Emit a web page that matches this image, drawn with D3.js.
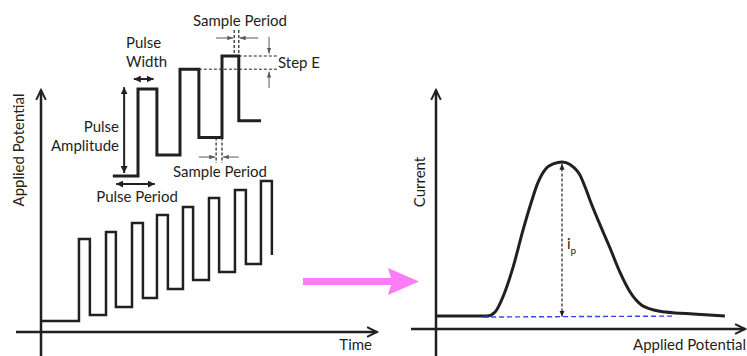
<!DOCTYPE html>
<html>
<head>
<meta charset="utf-8">
<script src="https://cdn.jsdelivr.net/npm/d3@7"></script>
<style>
  body { margin: 0; background: #fff; }
  svg { display: block; font-family: Lato, sans-serif; }
  text { fill: #231f20; }
</style>
</head>
<body>
<svg></svg>
<script>
let width = 747
let height = 356
let ink = '#231f20'
let grey = '#58595b'

// square wave excitation (left), time in pulse periods, potential in arbitrary steps
let riseTimes = [1.46, 2.5, 3.5, 4.46, 5.46, 6.46, 7.46, 8.46]
let fallTimes = [1.88, 2.88, 3.92, 4.88, 5.85, 6.85, 7.88, 8.88]
let highLevels = [9.3, 10.0, 10.9, 11.7, 12.5, 13.4, 14.2, 15.1]
let lowLevels = [1.7, 2.5, 3.4, 4.3, 5.2, 6.0, 6.8, 7.7]
let startLevel = 1.1

// enlarged detail of the first pulses
let insetRise = [0, 1, 2]
let insetFall = [0.45, 1.45, 2.4]
let insetHigh = [7.25, 8.9, 10]
let insetLow = [1.75, 3.2, 4.6]
let insetStart = -0.6
let insetEnd = 2.93

// resulting voltammogram (right)
let potential = [0, 1.7, 1.97, 2.23, 2.57, 2.9, 3.2, 3.38, 3.7, 3.93, 4.2, 4.47, 4.8, 4.97, 5.13, 5.57, 5.8, 6.13, 6.47, 6.67, 6.87, 7.13, 7.47, 7.97, 8.57, 9.63]
let current = [0.54, 0.54, 0.71, 1.34, 2.59, 4.14, 5.4, 6.07, 6.76, 6.92, 6.99, 6.88, 6.44, 5.94, 5.4, 4.06, 3.39, 2.38, 1.55, 1.21, 0.98, 0.84, 0.74, 0.67, 0.63, 0.54]
let baseline = [[1.57, 0.5], [7.9, 0.54]]
let peakIndex = 10

let leftX = d3.scaleLinear().domain([0, 13]).range([41, 379])
let leftY = d3.scaleLinear().domain([0, 10]).range([332, 232])
let insetX = d3.scaleLinear().domain([0, 1]).range([138, 180])
let insetY = d3.scaleLinear().domain([0, 10]).range([176, 56])
let rightX = d3.scaleLinear().domain([0, 10]).range([436, 736])
let rightY = d3.scaleLinear().domain([0, 10]).range([329, 90])

let svg = d3.select('svg')
    .attr('width', width)
    .attr('height', height)

let defs = svg.append('defs')

function marker(id, w, h, color) {
  defs.append('marker')
      .attr('id', id)
      .attr('viewBox', `0 ${-h} ${w} ${2 * h}`)
      .attr('refX', w)
      .attr('refY', 0)
      .attr('markerWidth', w)
      .attr('markerHeight', 2 * h)
      .attr('markerUnits', 'userSpaceOnUse')
      .attr('orient', 'auto-start-reverse')
    .append('path')
      .attr('d', `M0,${-h}L${w},0L0,${h}Z`)
      .attr('fill', color)
}
marker('solid', 7, 3.5, ink)
marker('small', 6, 2.6, ink)
marker('thin', 6, 2.2, grey)

function line(g, x1, y1, x2, y2) {
  return g.append('line')
      .attr('x1', x1).attr('y1', y1)
      .attr('x2', x2).attr('y2', y2)
}

function axisArrow(g, x1, y1, x2, y2) {
  line(g, x1, y1, x2, y2)
      .attr('stroke', ink)
      .attr('stroke-width', 2.5)
  let a = Math.atan2(y2 - y1, x2 - x1)
  let len = 11, spread = 0.45
  let p = [
    [x2 - len * Math.cos(a - spread), y2 - len * Math.sin(a - spread)],
    [x2, y2],
    [x2 - len * Math.cos(a + spread), y2 - len * Math.sin(a + spread)]
  ]
  g.append('path')
      .attr('d', d3.line()(p))
      .attr('fill', 'none')
      .attr('stroke', ink)
      .attr('stroke-width', 2)
}

function label(g, x, y, txt, anchor, size) {
  return g.append('text')
      .attr('x', x)
      .attr('y', y)
      .attr('text-anchor', anchor || 'start')
      .attr('font-size', size || 15)
      .text(txt)
}

// ---------- left panel ----------
let left = svg.append('g')

axisArrow(left, 41, 356, 41, 90)
axisArrow(left, 16, 332, 377, 332)

let wave = [[0, startLevel]]
riseTimes.forEach((t, i) => {
  let prev = i === 0 ? startLevel : lowLevels[i - 1]
  wave.push([t, prev], [t, highLevels[i]], [fallTimes[i], highLevels[i]], [fallTimes[i], lowLevels[i]])
})

left.append('path')
    .attr('d', d3.line().x(d => leftX(d[0])).y(d => leftY(d[1]))(wave))
    .attr('fill', 'none')
    .attr('stroke', ink)
    .attr('stroke-width', 2.5)

label(left, 0, 0, 'Applied Potential', 'middle')
    .attr('transform', 'translate(24,150) rotate(-90)')
label(left, 372, 350, 'Time', 'end')

// inset waveform
let inset = [[insetStart, 0]]
insetRise.forEach((t, i) => {
  let prev = i === 0 ? 0 : insetLow[i - 1]
  inset.push([t, prev], [t, insetHigh[i]], [insetFall[i], insetHigh[i]], [insetFall[i], insetLow[i]])
})
inset.push([insetEnd, insetLow[insetLow.length - 1]])

left.append('path')
    .attr('d', d3.line().x(d => insetX(d[0])).y(d => insetY(d[1]))(inset))
    .attr('fill', 'none')
    .attr('stroke', ink)
    .attr('stroke-width', 3)

// pulse amplitude / width / period
line(left, insetX(-0.33), insetY(0.25), insetX(-0.33), insetY(7.4))
    .attr('stroke', ink).attr('stroke-width', 2)
    .attr('marker-start', 'url(#solid)').attr('marker-end', 'url(#solid)')
line(left, insetX(-0.1), insetY(8.08), insetX(0.37), insetY(8.08))
    .attr('stroke', ink).attr('stroke-width', 2)
    .attr('marker-start', 'url(#solid)').attr('marker-end', 'url(#solid)')
line(left, insetX(-0.52), insetY(-0.67), insetX(0.4), insetY(-0.67))
    .attr('stroke', ink).attr('stroke-width', 2)
    .attr('marker-start', 'url(#solid)').attr('marker-end', 'url(#solid)')

label(left, 126, 48, 'Pulse')
label(left, 126, 67, 'Width')
label(left, 119, 132, 'Pulse', 'end')
label(left, 119, 151, 'Amplitude', 'end')
label(left, 137, 202, 'Pulse Period', 'middle')

// sample period, lower
let dash = '3,2'
;[1.86, 2].forEach(t => {
  line(left, insetX(t), insetY(3.2), insetX(t), insetY(1.08))
      .attr('stroke', ink).attr('stroke-width', 1.2).attr('stroke-dasharray', dash)
})
line(left, insetX(1.45), insetY(1.58), insetX(1.84), insetY(1.58))
    .attr('stroke', grey).attr('stroke-width', 1).attr('marker-end', 'url(#thin)')
line(left, insetX(2.4), insetY(1.58), insetX(2.02), insetY(1.58))
    .attr('stroke', grey).attr('stroke-width', 1).attr('marker-end', 'url(#thin)')
label(left, 220, 177, 'Sample Period', 'middle')

// sample period, upper
;[2.29, 2.4].forEach(t => {
  line(left, insetX(t), insetY(12.17), insetX(t), insetY(10))
      .attr('stroke', ink).attr('stroke-width', 1.2).attr('stroke-dasharray', dash)
})
line(left, insetX(1.86), insetY(11.5), insetX(2.27), insetY(11.5))
    .attr('stroke', grey).attr('stroke-width', 1).attr('marker-end', 'url(#thin)')
line(left, insetX(2.86), insetY(11.5), insetX(2.42), insetY(11.5))
    .attr('stroke', grey).attr('stroke-width', 1).attr('marker-end', 'url(#thin)')
label(left, 240, 26, 'Sample Period', 'middle')

// step E
line(left, insetX(2.4), insetY(10), insetX(3.31), insetY(10))
    .attr('stroke', ink).attr('stroke-width', 1).attr('stroke-dasharray', dash)
line(left, insetX(1.45), insetY(8.9), insetX(3.31), insetY(8.9))
    .attr('stroke', ink).attr('stroke-width', 1).attr('stroke-dasharray', dash)
line(left, insetX(3.12), insetY(11.6), insetX(3.12), insetY(10.2))
    .attr('stroke', grey).attr('stroke-width', 1).attr('marker-end', 'url(#thin)')
line(left, insetX(3.12), insetY(7.33), insetX(3.12), insetY(8.7))
    .attr('stroke', grey).attr('stroke-width', 1).attr('marker-end', 'url(#thin)')
label(left, 278, 68, 'Step E')

// ---------- transition arrow ----------
svg.append('path')
    .attr('d', 'M303,278L391,278L388,268L419,281.5L388,295L391,285L303,285Z')
    .attr('fill', '#fa7df7')

// ---------- right panel ----------
let right = svg.append('g')

axisArrow(right, 436, 356, 436, 90)
axisArrow(right, 411, 329, 745, 329)

let curve = potential.map((p, i) => [p, current[i]])

right.append('path')
    .attr('d', d3.line()
        .x(d => rightX(d[0]))
        .y(d => rightY(d[1]))
        .curve(d3.curveMonotoneX)(curve))
    .attr('fill', 'none')
    .attr('stroke', ink)
    .attr('stroke-width', 3)

right.append('path')
    .attr('d', d3.line().x(d => rightX(d[0])).y(d => rightY(d[1]))(baseline))
    .attr('stroke', '#3342ee')
    .attr('stroke-width', 1.4)
    .attr('stroke-dasharray', '5,3')

let peakX = rightX(potential[peakIndex])
line(right, peakX, rightY(0.52), peakX, rightY(current[peakIndex] - 0.08))
    .attr('stroke', ink).attr('stroke-width', 1.2).attr('stroke-dasharray', '3,2')
    .attr('marker-start', 'url(#small)').attr('marker-end', 'url(#small)')

let ip = label(right, 567, 249, 'i', 'start', 15)
ip.append('tspan').attr('font-size', 10).attr('dy', 5).text('p')

label(right, 0, 0, 'Current', 'middle')
    .attr('transform', 'translate(425,182) rotate(-90)')
label(right, 746, 350, 'Applied Potential', 'end')
</script>
</body>
</html>
